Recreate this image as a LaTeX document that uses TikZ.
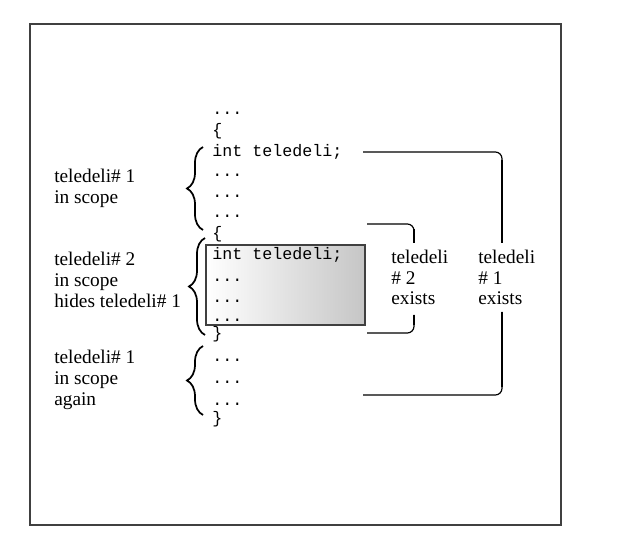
\documentclass[tikz,border=0pt]{standalone}
\usepackage{fontspec}
\setmainfont{Liberation Serif}
\setmonofont{Liberation Mono}
\usetikzlibrary{decorations.pathreplacing}

\definecolor{framegray}{HTML}{404040}

\tikzset{
  code/.style={anchor=base west, inner sep=0pt, font=\ttfamily\fontsize{12.5}{14}\selectfont},
  lbl/.style={anchor=base west, inner sep=0pt, align=left, font=\fontsize{14.5}{15.5}\selectfont},
  scopebrace/.style={decorate, decoration={brace, amplitude=12pt}, line width=1.3pt},
  life/.style={line width=0.9pt, rounded corners=5pt},
  lifebar/.style={line width=1.8pt},
  innerbox/.style={draw=framegray, line width=1.5pt, left color=white, right color=gray!45},
}

\begin{document}
\begin{tikzpicture}[x=0.75pt, y=-0.75pt]
\useasboundingbox (0,0) rectangle (624,541);

\draw[framegray, line width=1.5pt] (30,24) rectangle (561,525);

% inner block
\draw[innerbox] (206,245) rectangle (365,325);

% code
\node[code] (c1) at (212,115) {...};
\node[code] (c2) at (212,135.5) {\{};
\node[code] (c3) at (212,156.5) {int teledeli;};
\node[code] (c4) at (212,177) {...};
\node[code] (c5) at (212,197.5) {...};
\node[code] (c6) at (212,218) {...};
\node[code] (c7) at (212,238.5) {\{};
\node[code] (c8) at (212,259.5) {int teledeli;};
\node[code] (c9) at (212,282) {...};
\node[code] (c10) at (212,302.5) {...};
\node[code] (c11) at (212,321) {...};
\node[code] (c12) at (212,339) {\}};
\node[code] (c13) at (212,361) {...};
\node[code] (c14) at (212,383) {...};
\node[code] (c15) at (212,405) {...};
\node[code] (c16) at (212,423) {\}};

% scopes on the left (base = last line)
\node[lbl] (s1) at (54,203.5) {teledeli\# 1\\in scope};
\node[lbl] (s2) at (54,307.3) {teledeli\# 2\\in scope\\hides teledeli\# 1};
\node[lbl] (s3) at (54,405) {teledeli\# 1\\in scope\\again};

\draw[scopebrace] (203,230) -- (203,147);
\draw[scopebrace] (205,335) -- (205,238);
\draw[scopebrace] (203,415) -- (203,346);

% lifetimes on the right
\node[lbl] (e2) at (391,305) {teledeli\\\# 2\\exists};
\node[lbl] (e1) at (478,305) {teledeli\\\# 1\\exists};

\coordinate (e1a) at (363,152);
\coordinate (e1b) at (502,243);
\coordinate (e1c) at (502,312);
\coordinate (e1d) at (363,395);
\coordinate (e2a) at (367,224);
\coordinate (e2b) at (414,243);
\coordinate (e2c) at (414,315);
\coordinate (e2d) at (367,333);

\draw[life] (e1a) -| (e1b);
\draw[life] (e1c) |- (e1d);
\draw[life] (e2a) -| (e2b);
\draw[life] (e2c) |- (e2d);

% heavier upright strokes
\draw[lifebar] (e1b) -- ++(0,-83);
\draw[lifebar] (e1c) -- ++(0,75);
\draw[lifebar] (e2b) -- ++(0,-14);
\draw[lifebar] (e2c) -- ++(0,10);
\end{tikzpicture}
\end{document}
